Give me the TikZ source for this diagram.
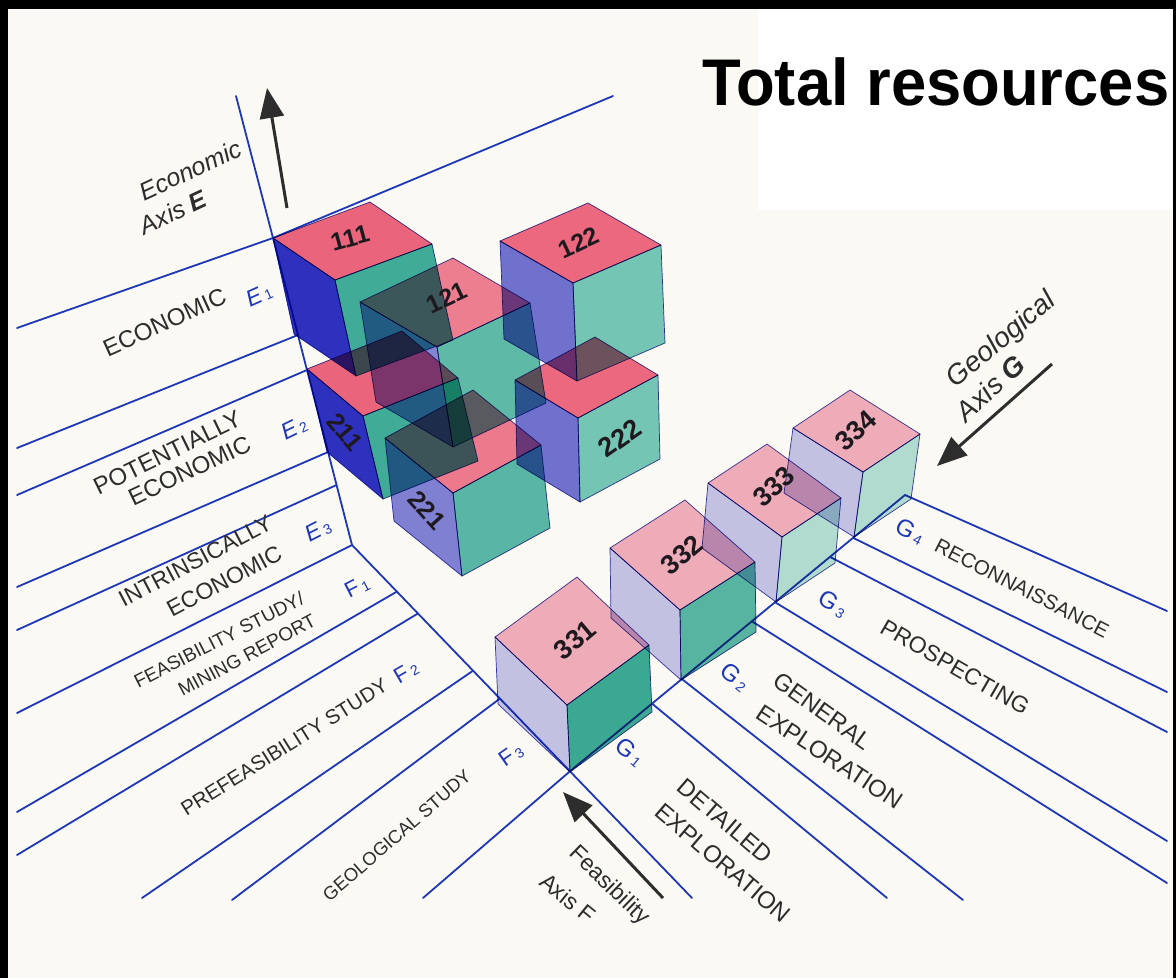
\documentclass[tikz,border=0pt]{standalone}
\usepackage{fontspec}
\setmainfont{Liberation Sans}
\usetikzlibrary{arrows.meta,calc}
\definecolor{bgc}{RGB}{250,249,243}
\definecolor{axblue}{RGB}{30,55,185}
\definecolor{labgray}{RGB}{45,45,45}
\definecolor{arrgray}{RGB}{45,45,45}
\definecolor{pinkU}{RGB}{238,88,118}
\definecolor{blueD}{RGB}{25,28,195}
\definecolor{blueM}{RGB}{95,97,210}
\definecolor{tealU}{RGB}{45,168,150}
\definecolor{tealM}{RGB}{100,195,180}
\definecolor{pinkL}{RGB}{242,168,188}
\definecolor{lavL}{RGB}{192,192,236}
\definecolor{tealLL}{RGB}{172,222,212}
\definecolor{tealD}{RGB}{40,165,142}
\definecolor{edgec}{RGB}{60,60,170}
\definecolor{numc}{RGB}{30,25,30}
\newcommand{\myfs}[1]{\fontsize{#1}{#1}\selectfont}
\newcommand{\drawcube}[8]{%
  \coordinate (cL) at (#1);
  \coordinate (cB) at ($(cL)+(#2)$);
  \coordinate (cF) at ($(cL)+(#3)$);
  \coordinate (cR) at ($(cB)+(#3)$);
  \coordinate (cLb) at ($(cL)+(#4)$);
  \coordinate (cFb) at ($(cF)+(#4)$);
  \coordinate (cRb) at ($(cR)+(#4)$);
  \filldraw[face, fill opacity=#8, fill=#5] (cL)--(cB)--(cR)--(cF)--cycle;
  \filldraw[face, fill opacity=#8, fill=#6] (cL)--(cF)--(cFb)--(cLb)--cycle;
  \filldraw[face, fill opacity=#8, fill=#7] (cF)--(cR)--(cRb)--(cFb)--cycle;
}
\newcommand{\sub}[2]{#1\hspace{3pt}\raisebox{-1pt}{\myfs{14}\upshape #2}}
\begin{document}
\begin{tikzpicture}[x=1pt,y=-1pt,
  ax/.style={draw=axblue, line width=1.8pt, line cap=round},
  face/.style={blend mode=multiply, draw=edgec, line width=0.7pt, line join=round},
  lab/.style={text=labgray, inner sep=0pt, anchor=base},
  labc/.style={text=labgray, inner sep=0pt, anchor=center},
  blab/.style={text=axblue, inner sep=0pt, anchor=center},
  num/.style={text=numc, inner sep=0pt, font=\bfseries\myfs{25}},
  arr/.style={draw=arrgray, line width=3pt, -{Triangle[length=30pt,width=24pt]}}]
\useasboundingbox (0,0) rectangle (1176,978);
\fill[bgc] (0,0) rectangle (1176,978);
\fill[black] (0,0) rectangle (1176,9);
\fill[black] (0,0) rectangle (8,978);
\fill[black] (1173,0) rectangle (1176,978);
\fill[white] (758,9) rectangle (1172,210);
\node[anchor=base west, inner sep=0pt, font=\bfseries\myfs{66}, xscale=0.96] (title) at (702,105) {Total resources};

% axis coordinates
\coordinate (Etop) at (236,96);
\coordinate (K) at (352,545);
\coordinate (Fend) at (692,898);
\coordinate (Tend) at (613,96);
\coordinate (O) at (273,238);
\coordinate (e2) at ($(O)!0.3160!(K)$);
\coordinate (e3) at ($(O)!0.4300!(K)$);
\coordinate (e4) at ($(O)!0.6971!(K)$);
\coordinate (e5) at ($(O)!0.8046!(K)$);
\coordinate (f1) at ($(K)!0.132!(Fend)$);
\coordinate (f2) at ($(K)!0.194!(Fend)$);
\coordinate (f3) at ($(K)!0.356!(Fend)$);
\coordinate (f4) at ($(K)!0.435!(Fend)$);
\coordinate (C) at ($(K)!0.641!(Fend)$);
\coordinate (Gstart) at (423,898);
\coordinate (g7) at (905,495);
\coordinate (g1) at ($(C)!0.245!(g7)$);
\coordinate (g2) at ($(C)!0.334!(g7)$);
\coordinate (g3) at ($(C)!0.543!(g7)$);
\coordinate (g4) at ($(C)!0.612!(g7)$);
\coordinate (g5) at ($(C)!0.776!(g7)$);
\coordinate (g6) at ($(C)!0.845!(g7)$);
% left ends
\coordinate (a1) at (17,328);
\coordinate (a2) at (17,448);
\coordinate (a3) at (17,495);
\coordinate (a4) at (17,587);
\coordinate (a5) at (17,630);
\coordinate (a6) at (17,713);
\coordinate (a7) at (17,812);
\coordinate (a8) at (17,855);
\coordinate (a9) at (142,898);
\coordinate (a10) at (232,900);
% right ends
\coordinate (b1) at (887,898);
\coordinate (b2) at (963,900);
\coordinate (b3) at (1167,883);
\coordinate (b4) at (1167,841);
\coordinate (b5) at (1167,732);
\coordinate (b6) at (1167,692);
\coordinate (b7) at (1167,611);

% blue lines
\draw[ax] (Etop) -- (O) -- (K) -- (Fend);
\draw[ax] (a1) -- (O) -- (Tend);
\draw[ax] (a2) -- (e2);
\draw[ax] (a3) -- (e3);
\draw[ax] (a4) -- (e4);
\draw[ax] (a5) -- (e5);
\draw[ax] (a6) -- (K);
\draw[ax] (a7) -- (f1);
\draw[ax] (a8) -- (f2);
\draw[ax] (a9) -- (f3);
\draw[ax] (a10) -- (f4);
\draw[ax] (Gstart) -- (C) -- (g7);
\draw[ax] (g1) -- (b1);
\draw[ax] (g2) -- (b2);
\draw[ax] (g3) -- (b3);
\draw[ax] (g4) -- (b4);
\draw[ax] (g5) -- (b5);
\draw[ax] (g6) -- (b6);
\draw[ax] (g7) -- (b7);

% upper cubes
\drawcube{273,238}{97,-36}{62,42}{21,96}{pinkU}{blueD}{tealU}{0.9}
\drawcube{307,369}{95,-38}{56,47}{20,83}{pinkU}{blueD}{tealU}{0.9}
\drawcube{500,241}{88,-38}{73,42}{4,98}{pinkU}{blueM}{tealM}{0.88}
\drawcube{515,380}{80,-43}{63,38}{2,84}{pinkU}{blueM}{tealM}{0.88}
\drawcube{360,302}{93,-44}{77,45}{16,100}{pinkU}{blueM}{tealU}{0.75}
\drawcube{385,438}{88,-48}{68,55}{9,83}{pinkU}{blueM}{tealU}{0.78}
% lower cubes
\drawcube{495,637}{82,-60}{72,68}{3,67}{pinkL}{lavL}{tealD}{0.9}
\drawcube{610,548}{75,-48}{70,62}{1,70}{pinkL}{lavL}{tealD!85!white}{0.9}
\drawcube{708,483}{59,-39}{74,54}{-6,65}{pinkL}{lavL}{tealLL}{0.9}
\drawcube{793,428}{57,-38}{70,44}{-9,65}{pinkL}{lavL}{tealLL}{0.9}

% cube numbers
\node[num, rotate=15] (n111) at (350,238) {111};
\node[num, rotate=25] (n121) at (447,298) {121};
\node[num, rotate=25] (n122) at (579,243) {122};
\node[num, rotate=-50] (n211) at (345,432) {211};
\node[num, rotate=-48] (n221) at (427,510) {221};
\node[num, rotate=35, font=\bfseries\myfs{27}] (n222) at (620,438) {222};
\node[num, rotate=40, font=\bfseries\myfs{27}] (n331) at (575,640) {331};
\node[num, rotate=40, font=\bfseries\myfs{27}] (n332) at (682,555) {332};
\node[num, rotate=42, font=\bfseries\myfs{27}] (n333) at (774,487) {333};
\node[num, rotate=42, font=\bfseries\myfs{27}] (n334) at (856,431) {334};

% arrows
\coordinate (aEtail) at (287,208);
\coordinate (aEtip) at (267,88);
\coordinate (aFtail) at (663,898);
\coordinate (aFtip) at (563,792);
\coordinate (aGtail) at (1052,364);
\coordinate (aGtip) at (937,466);
\draw[arr] (aEtail) -- (aEtip);
\draw[arr] (aFtail) -- (aFtip);
\draw[arr] (aGtail) -- (aGtip);

% axis titles
\node[labc, rotate=25, font=\itshape\myfs{25}] (tEco) at (190,170) {Economic};
\node[labc, rotate=25, font=\itshape\myfs{25}] (tAxE) at (173,212) {Axis \textbf{E}};
\node[labc, rotate=40, font=\itshape\myfs{28}] (tGeo) at (1002,340) {Geological};
\node[labc, rotate=43, font=\itshape\myfs{28}] (tAxG) at (990,388) {Axis \textbf{G}};
\node[labc, rotate=-44, font=\myfs{23}] (tFea) at (609,886) {Feasibility};
\node[labc, rotate=-39, font=\myfs{23}] (tAxF) at (568,898) {Axis F};

% left band labels
\node[lab, rotate=24.3, font=\myfs{24}] (lE1) at (168,330) {ECONOMIC};
\node[lab, rotate=26, font=\myfs{24}] (lE2a) at (171,460) {POTENTIALLY};
\node[lab, rotate=25.3, font=\myfs{24}] (lE2b) at (193,478) {ECONOMIC};
\node[lab, rotate=27.7, font=\myfs{23}] (lE3a) at (199,568) {INTRINSICALLY};
\node[lab, rotate=28, font=\myfs{23}] (lE3b) at (228,588) {ECONOMIC};
\node[lab, rotate=27, font=\myfs{19}] (lF1a) at (222,646) {FEASIBILITY STUDY/};
\node[lab, rotate=28, font=\myfs{19}] (lF1b) at (250,661) {MINING REPORT};
\node[lab, rotate=32, font=\myfs{20.5}] (lF2) at (288,753) {PREFEASIBILITY STUDY};
\node[lab, rotate=41, font=\myfs{18.5}] (lF3) at (401,840) {GEOLOGICAL STUDY};

% blue class codes
\node[blab, rotate=24, font=\itshape\myfs{23}] (cE1) at (259,295) {\sub{E}{1}};
\node[blab, rotate=26, font=\itshape\myfs{23}] (cE2) at (294,428) {\sub{E}{2}};
\node[blab, rotate=27, font=\itshape\myfs{23}] (cE3) at (318,530) {\sub{E}{3}};
\node[blab, rotate=27, font=\myfs{22}] (cF1) at (357,587) {\sub{F}{1}};
\node[blab, rotate=30, font=\myfs{22}] (cF2) at (406,672) {\sub{F}{2}};
\node[blab, rotate=35, font=\myfs{22}] (cF3) at (511,755) {\sub{F}{3}};
\node[blab, rotate=-40, font=\myfs{24}] (cG1) at (630,752) {\sub{G}{1}};
\node[blab, rotate=-40, font=\myfs{24}] (cG2) at (735,677) {\sub{G}{2}};
\node[blab, rotate=-32, font=\myfs{24}] (cG3) at (833,604) {\sub{G}{3}};
\node[blab, rotate=-28, font=\myfs{24}] (cG4) at (910,531) {\sub{G}{4}};

% right band labels
\node[labc, rotate=-40.5, font=\myfs{24}] (lG1a) at (725,821) {DETAILED};
\node[labc, rotate=-40.4, font=\myfs{24}] (lG1b) at (723,863) {EXPLORATION};
\node[labc, rotate=-35.6, font=\myfs{24}] (lG2a) at (823,711) {GENERAL};
\node[labc, rotate=-33.3, font=\myfs{24}] (lG2b) at (830,757) {EXPLORATION};
\node[labc, rotate=-30, font=\myfs{23}] (lG3) at (955,667) {PROSPECTING};
\node[labc, rotate=-27.2, font=\myfs{20.5}] (lG4) at (1022,588) {RECONNAISSANCE};
\end{tikzpicture}
\end{document}
